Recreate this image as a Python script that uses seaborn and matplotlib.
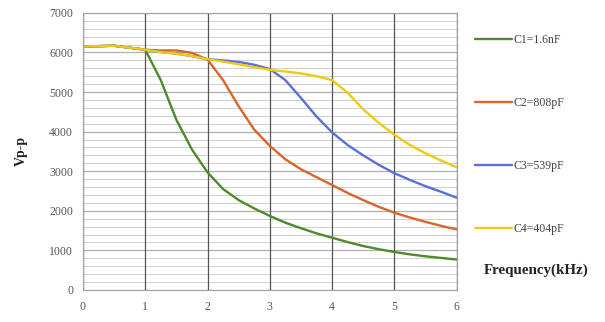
import matplotlib
matplotlib.use("Agg")
import matplotlib.pyplot as plt
import numpy as np
import pandas as pd
import seaborn as sns
from matplotlib.ticker import MultipleLocator

freq = [0, 0.25, 0.5, 0.75, 1, 1.25, 1.5, 1.75, 2, 2.25, 2.5, 2.75, 3,
        3.25, 3.5, 3.75, 4, 4.25, 4.5, 4.75, 5, 5.25, 5.5, 5.75, 6]
c1 = [6150, 6160, 6170, 6120, 6070, 5300, 4300, 3550, 2970, 2550, 2270, 2060, 1870,
      1700, 1560, 1430, 1320, 1210, 1110, 1030, 960, 900, 850, 810, 770]
c2 = [6150, 6160, 6170, 6120, 6070, 6050, 6050, 5990, 5820, 5300, 4640, 4050, 3640,
      3300, 3050, 2850, 2650, 2450, 2270, 2100, 1950, 1830, 1720, 1620, 1530]
c3 = [6150, 6160, 6170, 6120, 6070, 6010, 5970, 5910, 5830, 5800, 5760, 5690, 5580,
      5300, 4850, 4380, 3980, 3660, 3400, 3160, 2950, 2780, 2620, 2480, 2330]
c4 = [6150, 6160, 6170, 6120, 6070, 6010, 5970, 5910, 5830, 5770, 5700, 5630, 5560,
      5520, 5470, 5400, 5300, 4980, 4560, 4220, 3920, 3660, 3450, 3270, 3100]
labels = ["C1=1.6nF", "C2=808pF", "C3=539pF", "C4=404pF"]
colors = ["#4e8a2c", "#d8652a", "#5b6fd6", "#eecb12"]
x_ticks = [0, 1, 2, 3, 4, 5, 6]
y_ticks = [0, 1000, 2000, 3000, 4000, 5000, 6000, 7000]

df = pd.concat([
    pd.DataFrame({"Frequency": freq, "Vpp": vals, "series": lab})
    for vals, lab in zip([c1, c2, c3, c4], labels)
])

sns.set_theme(style="white")
plt.rcParams["font.family"] = ["Liberation Serif", "DejaVu Serif"]

fig = plt.figure(figsize=(6.05, 3.22), dpi=100)
ax = fig.add_axes([0.137, 0.0994, 0.618, 0.8606])

sns.lineplot(data=df, x="Frequency", y="Vpp", hue="series", hue_order=labels,
             palette=colors, linewidth=1.7, ax=ax, legend=True, sort=False)

ax.set_xlim(0, 6)
ax.set_ylim(0, 7000)
ax.set_xticks(x_ticks)
ax.set_yticks(y_ticks)
ax.yaxis.set_minor_locator(MultipleLocator(200))
ax.grid(False)
ax.grid(which="minor", axis="y", color="#cfcfcf", linewidth=0.7)
ax.grid(which="major", axis="y", color="#b0b0b0", linewidth=0.9)
ax.grid(which="major", axis="x", color="#555555", linewidth=0.9)
ax.set_axisbelow(True)
ax.yaxis.set_zorder(0.5)
ax.xaxis.set_zorder(0.6)
for s in ax.spines.values():
    s.set_color("#a0a0a0")
    s.set_linewidth(0.8)
ax.tick_params(axis="both", which="both", length=0, labelsize=8.5, labelcolor="#555555")
ax.tick_params(axis="y", pad=7)
ax.tick_params(axis="x", pad=8)
ax.set_xlabel("")
ax.set_ylabel("")

h, l = ax.get_legend_handles_labels()
ax.get_legend().remove()
fig.legend(h, l, loc="upper left", bbox_to_anchor=(0.785, 0.893), frameon=False,
           fontsize=8.5, handlelength=3.1, handletextpad=0.2, labelspacing=4.3,
           borderpad=0, borderaxespad=0, labelcolor="#444444")

fig.text(0.886, 0.161, "Frequency(kHz)", ha="center", va="center",
         fontsize=10.8, fontweight="bold", color="#222222")
fig.text(0.035, 0.53, "Vp-p", ha="center", va="center", rotation=90,
         fontsize=10, fontweight="bold", color="#222222")

fig.savefig("out.png", dpi=100, facecolor="white")
